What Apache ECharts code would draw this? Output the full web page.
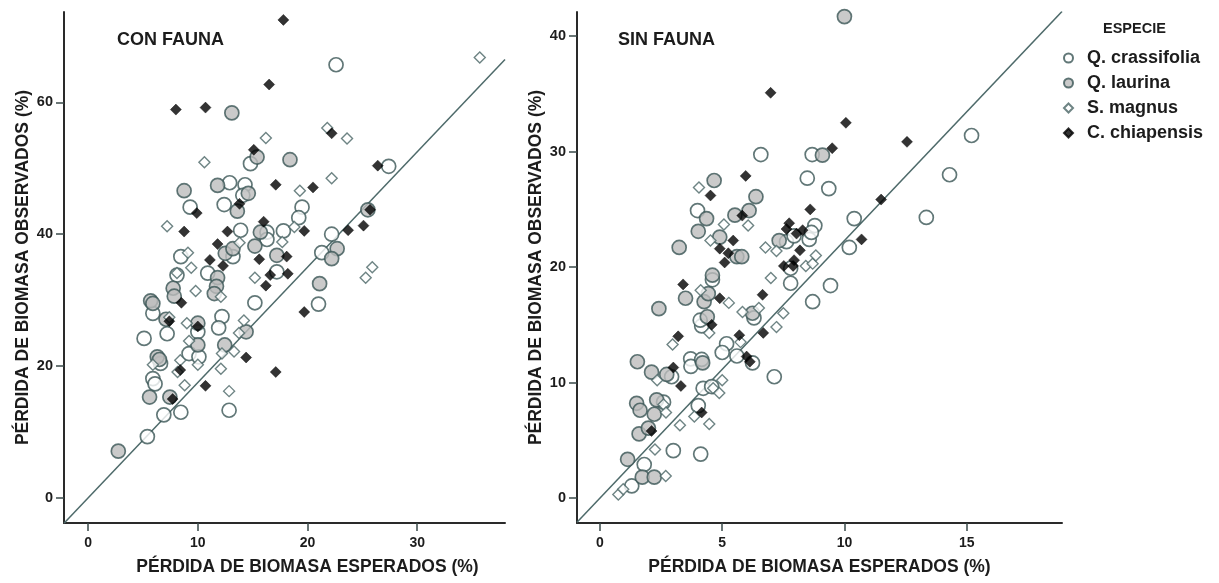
<!DOCTYPE html>
<html>
<head>
<meta charset="utf-8">
<script src="https://cdn.jsdelivr.net/npm/echarts@6/dist/echarts.min.js"></script>
<style>
  html, body { margin: 0; padding: 0; background: #fff; }
  #chart { width: 1219px; height: 583px; }
</style>
</head>
<body>
<div id="chart"></div>
<script>
// CON FAUNA (esperado %, observado %)
const conCrassifolia = [
  [22.6,65.7],[14.8,50.7],[27.4,50.3],[12.9,47.8],[14.3,47.5],[14.1,45.9],[9.3,44.1],[12.4,44.5],
  [19.5,44.1],[19.2,42.5],[13.9,40.6],[16.3,40.3],[17.8,40.5],[22.2,40.0],[16.3,39.2],[13.2,36.6],
  [8.45,36.6],[21.3,37.2],[8.1,33.8],[10.9,34.1],[17.2,34.3],[15.2,29.6],[21.0,29.4],[5.9,28.0],
  [7.2,24.9],[10.0,25.2],[12.2,27.5],[11.9,25.8],[5.1,24.2],[9.2,21.9],[10.1,21.4],[6.6,20.4],
  [5.9,18.1],[6.1,17.3],[6.9,12.6],[8.45,13.0],[12.85,13.3],[5.4,9.3]
];
const conLaurina = [
  [13.1,58.4],[15.4,51.7],[18.4,51.3],[8.75,46.6],[11.8,47.4],[14.6,46.2],[13.6,43.5],[25.5,43.7],
  [15.7,40.3],[15.2,38.2],[12.5,37.1],[13.2,37.8],[17.2,36.8],[22.7,37.8],[22.2,36.3],[11.8,33.4],
  [21.1,32.5],[7.75,31.8],[11.7,32.1],[5.7,29.9],[5.9,29.5],[7.85,30.6],[11.5,31.0],[7.1,27.1],
  [10.0,26.5],[14.4,25.2],[10.0,23.2],[12.45,23.2],[6.3,21.4],[6.5,21.0],[5.6,15.3],[7.45,15.3],
  [2.75,7.1]
];
const conMagnus = [
  [35.7,66.8],[21.8,56.1],[23.6,54.5],[16.2,54.6],[10.6,50.9],[22.2,48.5],[19.3,46.6],[7.2,41.2],
  [18.8,41.1],[13.8,38.7],[17.7,38.8],[9.1,37.2],[9.4,34.9],[8.1,34.1],[15.2,33.4],[25.3,33.4],
  [25.9,35.0],[9.8,31.4],[12.1,30.5],[7.4,27.4],[9.0,26.5],[14.2,26.9],[13.75,25.0],[9.2,23.8],
  [12.2,21.9],[13.3,22.2],[5.9,20.2],[8.4,20.9],[8.15,19.1],[10.0,20.2],[12.1,19.6],[8.8,17.1],
  [12.85,16.2]
];
const conChiapensis = [
  [17.8,72.5],[16.5,62.7],[8.0,58.9],[10.7,59.2],[22.2,55.3],[15.1,52.8],[26.4,50.4],[17.1,47.5],
  [20.5,47.1],[9.9,43.2],[13.8,44.6],[25.7,43.7],[8.75,40.4],[12.7,40.4],[16.0,41.9],[19.7,40.5],
  [23.7,40.6],[25.1,41.3],[11.8,38.5],[11.1,36.1],[15.6,36.2],[18.1,36.6],[12.3,35.2],[16.6,33.8],
  [18.2,34.0],[16.2,32.2],[19.7,28.2],[8.5,29.6],[7.4,26.8],[10.0,26.0],[14.4,21.3],[8.4,19.4],
  [17.1,19.1],[10.7,17.0],[7.7,15.0]
];

// SIN FAUNA
const sinCrassifolia = [
  [15.2,31.4],[14.3,28.0],[13.35,24.3],[10.4,24.2],[10.2,21.7],[9.43,18.4],[6.58,29.75],[8.68,29.75],
  [8.48,27.7],[9.36,26.8],[3.99,24.9],[7.63,22.2],[7.94,22.7],[8.79,23.6],[8.56,22.4],[8.65,23.0],
  [7.8,19.9],[7.8,18.6],[8.7,17.0],[4.6,18.9],[6.3,15.6],[5.18,13.36],[5.0,12.6],[5.6,12.3],
  [7.13,10.5],[6.24,11.7],[4.16,14.9],[4.1,15.4],[3.71,12.05],[3.72,11.4],[4.16,12.0],[2.93,10.5],
  [4.22,9.5],[4.57,9.65],[2.6,8.3],[4.02,8.0],[3.0,4.1],[4.12,3.8],[1.81,2.9],[1.3,1.04]
];
const sinLaurina = [
  [10.0,41.7],[9.1,29.7],[4.67,27.5],[6.38,26.1],[4.36,24.2],[5.52,24.5],[6.1,24.9],[4.02,23.1],
  [3.24,21.7],[4.9,22.6],[5.6,20.9],[5.8,20.9],[7.33,22.3],[4.6,19.3],[3.5,17.3],[4.26,17.0],
  [4.43,17.7],[2.41,16.4],[6.24,16.0],[4.39,15.7],[1.53,11.8],[2.11,10.9],[2.73,10.7],[4.2,11.7],
  [1.5,8.2],[1.64,7.6],[2.32,8.5],[2.22,7.25],[1.6,5.55],[1.98,6.05],[1.13,3.35],[1.73,1.8],
  [2.22,1.8]
];
const sinMagnus = [
  [4.05,26.9],[5.07,23.7],[6.06,23.6],[4.52,22.3],[6.77,21.7],[7.22,21.4],[8.42,20.1],[8.7,20.3],
  [8.83,21.0],[6.99,19.05],[4.12,18.0],[5.27,16.9],[5.83,16.1],[6.5,16.45],[7.5,16.0],[7.22,14.8],
  [5.75,13.5],[4.47,14.3],[2.97,13.3],[2.34,10.2],[4.63,9.5],[5.0,10.2],[4.88,9.1],[2.6,8.1],
  [2.7,7.4],[3.86,7.05],[3.27,6.3],[4.47,6.4],[2.25,4.2],[2.69,1.9],[0.75,0.3],[0.95,0.75]
];
const sinChiapensis = [
  [6.98,35.1],[10.06,32.5],[9.5,30.3],[12.56,30.85],[11.5,25.85],[10.7,22.4],[5.96,27.9],[4.52,26.2],
  [5.82,24.46],[8.6,25.0],[5.45,22.3],[4.9,21.6],[5.25,21.2],[5.1,20.4],[7.74,23.8],[7.63,23.3],
  [8.29,23.2],[8.04,22.9],[8.18,21.45],[7.52,20.1],[7.94,20.6],[7.9,20.1],[6.65,17.6],[3.4,18.5],
  [4.9,17.3],[6.68,14.3],[5.7,14.1],[6.0,12.25],[6.13,11.8],[4.57,15.0],[3.2,14.0],[3.0,11.3],
  [3.31,9.7],[4.16,7.4],[2.11,5.8]
];

const species = ['Q. crassifolia', 'Q. laurina', 'S. magnus', 'C. chiapensis'];
const ticksConX = [0, 10, 20, 30];
const ticksConY = [0, 20, 40, 60];
const ticksSinX = [0, 5, 10, 15];
const ticksSinY = [0, 10, 20, 30, 40];

// pendiente de la recta de referencia en cada panel
const slopeCon = 1.75;
const slopeSin = 2.23;

const FONT = 'Liberation Sans, Arial, sans-serif';
const INK = '#1c1c1c';
const EDGE = '#3a5555';

const rangeCon = { xMin: -2.2, xMax: 38, yMin: -3.8, yMax: 73.7 };
const rangeSin = { xMin: -0.94, xMax: 18.9, yMin: -2.17, yMax: 42.1 };

function makeXAxis(idx, r, ticks, padLeft) {
  return {
    type: 'value', gridIndex: idx, min: r.xMin, max: r.xMax,
    name: 'PÉRDIDA DE BIOMASA ESPERADOS (%)',
    nameLocation: 'middle', nameGap: 35,
    nameTextStyle: { fontFamily: FONT, fontWeight: 'bold', fontSize: 17.5, color: INK, padding: [0, 0, 0, padLeft] },
    splitLine: { show: false },
    axisLine: { onZero: false, lineStyle: { color: '#2a2a2a', width: 2 } },
    axisTick: { customValues: ticks, length: 8, lineStyle: { color: '#3a4a4a', width: 1.5 } },
    axisLabel: { customValues: ticks, margin: 13, fontFamily: FONT, fontWeight: 'bold', fontSize: 14, color: INK }
  };
}

function makeYAxis(idx, r, ticks) {
  return {
    type: 'value', gridIndex: idx, min: r.yMin, max: r.yMax,
    name: 'PÉRDIDA DE BIOMASA OBSERVADOS (%)',
    nameLocation: 'middle', nameGap: 32,
    nameTextStyle: { fontFamily: FONT, fontWeight: 'bold', fontSize: 17.5, color: INK },
    splitLine: { show: false },
    axisLine: { onZero: false, lineStyle: { color: '#2a2a2a', width: 2 } },
    axisTick: { customValues: ticks, length: 8, lineStyle: { color: '#3a4a4a', width: 1.5 } },
    axisLabel: { customValues: ticks, margin: 11, fontFamily: FONT, fontWeight: 'bold', fontSize: 14.5, color: INK }
  };
}

const styles = [
  { symbol: 'circle', symbolSize: 14, itemStyle: { color: '#ffffff', borderColor: EDGE, borderWidth: 1.7 } },
  { symbol: 'circle', symbolSize: 14, itemStyle: { color: '#bdbdbd', borderColor: EDGE, borderWidth: 1.7 } },
  { symbol: 'diamond', symbolSize: 11, itemStyle: { color: '#ffffff', borderColor: '#4a6565', borderWidth: 1.4 } },
  { symbol: 'diamond', symbolSize: 11, itemStyle: { color: '#000000', borderColor: '#000000', borderWidth: 0.5 } }
];

function scatterSeries(idx, sets) {
  return sets.map((d, i) => ({
    name: species[i], type: 'scatter', xAxisIndex: idx, yAxisIndex: idx,
    symbol: styles[i].symbol, symbolSize: styles[i].symbolSize,
    itemStyle: styles[i].itemStyle, data: d, z: 3 + i
  }));
}

function refLine(idx, r, slope) {
  return {
    type: 'line', xAxisIndex: idx, yAxisIndex: idx, silent: true, symbol: 'none',
    lineStyle: { color: '#4e6a6a', width: 1.5 }, z: 2,
    data: [[r.xMin, r.xMin * slope], [r.xMax, r.xMax * slope]]
  };
}

const chart = echarts.init(document.getElementById('chart'));

const option = {
  backgroundColor: '#ffffff',
  animation: false,
  title: [
    { text: 'CON FAUNA', left: 117, top: 31, padding: 0,
      textStyle: { fontFamily: FONT, fontWeight: 'bold', fontSize: 18, color: INK } },
    { text: 'SIN FAUNA', left: 618, top: 31, padding: 0,
      textStyle: { fontFamily: FONT, fontWeight: 'bold', fontSize: 18, color: INK } },
    { text: 'ESPECIE', left: 1103, top: 21, padding: 0,
      textStyle: { fontFamily: FONT, fontWeight: 'bold', fontSize: 14.5, color: INK } }
  ],
  legend: {
    orient: 'vertical', left: 1063, top: 49, padding: 0,
    itemWidth: 9, itemHeight: 9, itemGap: 7,
    data: species,
    textStyle: { fontFamily: FONT, fontWeight: 'bold', fontSize: 18, lineHeight: 17.5, color: INK, padding: [0, 0, 0, 9] }
  },
  grid: [
    { left: 64, top: 12, width: 441, height: 511 },
    { left: 577, top: 12, width: 485, height: 511 }
  ],
  xAxis: [
    makeXAxis(0, rangeCon, ticksConX, 46),
    makeXAxis(1, rangeSin, ticksSinX, 0)
  ],
  yAxis: [
    makeYAxis(0, rangeCon, ticksConY),
    makeYAxis(1, rangeSin, ticksSinY)
  ],
  series: [
    refLine(0, rangeCon, slopeCon),
    refLine(1, rangeSin, slopeSin),
    ...scatterSeries(0, [conCrassifolia, conLaurina, conMagnus, conChiapensis]),
    ...scatterSeries(1, [sinCrassifolia, sinLaurina, sinMagnus, sinChiapensis])
  ]
};

chart.setOption(option);
window.addEventListener('resize', chart.resize);
</script>
</body>
</html>
